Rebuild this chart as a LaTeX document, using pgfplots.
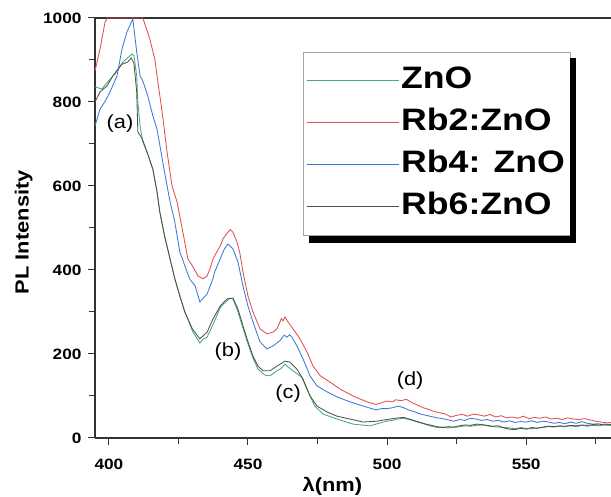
\documentclass[border=0pt]{standalone}
\usepackage{pgfplots}
\pgfplotsset{compat=1.18}
\usepackage{fontspec}
\setmainfont{Liberation Sans}[FakeStretch=1.15]
\definecolor{cgreen}{RGB}{70,170,115}
\definecolor{cred}{RGB}{225,80,80}
\definecolor{cblue}{RGB}{60,120,215}
\definecolor{cblack}{RGB}{80,80,80}
\definecolor{frame}{RGB}{50,50,50}
\begin{document}
\begin{tikzpicture}
\begin{axis}[
  scale only axis, width=516pt, height=420pt,
  at={(0,0)}, anchor=south west,
  xmin=395, xmax=580.5, ymin=0, ymax=1000,
  axis x line*=box, axis y line*=left,
  axis line style={-, draw=frame, line width=1.1pt},
  xtick={400,450,500,550}, minor xtick={425,475,525,575},
  ytick={0,200,400,600,800,1000}, minor ytick={100,300,500,700,900},
  xtick pos=left, ytick pos=left,
  tick align=outside,
  major tick length=7pt, minor tick length=6pt,
  every tick/.style={draw=frame, line width=1pt},
  tick label style={font=\bfseries\fontsize{15}{18}\selectfont},
  xticklabel style={yshift=-10pt},
  yticklabel style={xshift=-3pt},
  /pgf/number format/assume math mode=true,
  /pgf/number format/set thousands separator={},
  xlabel={λ(nm)}, ylabel={PL Intensity},
  label style={font=\bfseries\fontsize{19}{22}\selectfont},
  xlabel style={at={(axis description cs:0.46,0)}, anchor=center, yshift=-48pt},
  ylabel style={at={(axis description cs:-0.138,0.49)}, anchor=center},
  clip=true,
  legend style={at={(rel axis cs:0.403,0.919)}, anchor=north west, name=leg,
    draw=gray!70, fill=white, line width=0.6pt,
    font=\bfseries\fontsize{31}{34}\selectfont,
    inner xsep=3pt, inner ysep=8pt, row sep=1pt,
    nodes={inner sep=2pt, text height=26pt, text depth=11pt}},
  legend cell align=left,
  legend image code/.code={\draw[#1, line width=1pt] (0pt,0pt) -- (82pt,0pt); \path (0pt,0pt) -- (92pt,0pt);},
  every axis plot/.append style={line width=0.85pt},
]
\addplot[cgreen] coordinates {
(395,836)(397.5,831)(399.6,848)(402.2,867)(405,895)(408.3,914)(409,910)(410,862)(410.4,800)(411.2,743)(412.2,705)(413.7,681)(415.8,640)(417.3,586)(418.3,538)(420,481)(422,426)(423.7,379)(425.5,338)(427.3,300)(428.4,283)(430,255)(432.7,226)(434,236)(435.3,240)(437.4,270)(440,310)(441,318)(442.4,326)(443.5,333)(444.6,331)(446.4,300)(448.2,262)(450,224)(451.8,190)(453.6,164)(456,150)(457.9,148)(460.4,160)(462,166)(463.3,176)(464.4,169)(466.2,160)(469.3,145)(471.6,110)(474,76)(477,57)(482,45)(487.8,33)(493.9,29)(498.6,38)
(500,40)(502,42)(504,45)(506,47)(508,44)(510,40)(512,36)(514,32)(516,28)(518,25)(520,26)(522,24)(524,25)(526,27)(528,29)(530,28)(532,30)(534,31)(536,29)(538,27)(540,26)(542,25)(544,24)(546,22)(548,25)(550,23)(552,22)(554,24)(556,25)(558,27)(560,26)(562,28)(564,27)(566,29)(568,27)(570,30)(572,28)(574,30)(576,29)(578,31)(580.5,30)
};
\addlegendentry{ZnO}
\addplot[cred] coordinates {
(395,874)(396.8,926)(398.6,990)(399.5,1000)(412.2,1000)(414.7,950)(416.5,902)(417.6,848)(419,783)(420,730)(420.9,681)(422.7,600)(424.5,562)(426.6,490)(428.4,426)(430,410)(432,386)(433.8,379)(435.3,386)(436.3,402)(437.4,426)(438.8,443)(440,457)(441,474)(442.8,490)(443.6,496)(444.6,490)(446,467)(447,443)(448.2,395)(450,338)(451.8,300)(454.3,260)(456.8,248)(459,252)(460.4,260)(461.5,276)(462,284)(462.6,279)(463.3,288)(464.4,276)(466.2,260)(468.7,236)(471.2,205)(473.4,171)(476,148)(479.5,133)(483,117)(487.8,100)(492.8,86)(496,80)(498,84)
(500,88)(502,86)(503,91)(505,89)(507,92)(509,84)(511,78)(513,72)(515,68)(517,63)(519,60)(521,57)(523,50)(525,54)(527,56)(529,52)(531,57)(533,55)(535,52)(537,56)(539,50)(541,53)(543,48)(545,50)(547,47)(549,52)(551,46)(553,49)(555,47)(557,50)(559,45)(561,47)(563,44)(565,48)(567,45)(569,44)(571,46)(573,43)(575,40)(577,38)(579,36)(580.5,37)
};
\addlegendentry{Rb2:ZnO}
\addplot[cblue] coordinates {
(395,743)(396.8,783)(398.5,800)(400.4,824)(402.9,862)(404.7,926)(406.5,967)(408.6,998)(410,919)(411.2,862)(412.2,850)(414,814)(415.8,767)(417.3,735)(419,671)(420,633)(422,562)(423.7,514)(425.5,443)(427.3,410)(429,379)(431,362)(432.7,324)(435.3,343)(437.4,379)(438,395)(440,426)(441.5,450)(442.8,462)(444.6,450)(446.4,419)(448.2,362)(450,314)(451.8,276)(454.3,229)(456.8,212)(459,219)(461.5,232)(463,245)(464,240)(465,246)(465.8,240)(467.6,219)(469.8,188)(472.3,148)(474.8,124)(478.4,110)(482,98)(486.7,86)(491.4,76)(496,67)(498,70)
(500,70)(502,72)(504,76)(506,72)(508,66)(510,62)(512,57)(514,54)(516,51)(518,48)(520,46)(522,43)(524,40)(526,44)(528,42)(530,47)(532,45)(534,42)(536,44)(538,40)(540,42)(542,38)(544,41)(546,37)(548,39)(550,38)(552,41)(554,37)(556,40)(558,38)(560,35)(562,37)(564,34)(566,38)(568,35)(570,39)(572,35)(574,33)(576,34)(578,31)(580.5,32)
};
\addlegendentry{Rb4: ZnO}
\addplot[cblack] coordinates {
(395,800)(396.8,824)(399.3,838)(401.4,862)(404.7,890)(406.8,895)(408,905)(409,892)(410,824)(410.4,729)(412,712)(413.7,681)(415.8,640)(417.3,586)(418.3,538)(420,481)(422,426)(423.7,379)(425.5,338)(427.3,300)(428.4,283)(430,260)(432.7,236)(435.3,252)(437.4,283)(440,314)(442.4,331)(444.6,333)(446.4,307)(448.2,267)(450,229)(451.8,195)(453.6,171)(455.4,160)(457.9,160)(460.4,171)(463.3,183)(465,181)(467.6,164)(469.8,140)(472.3,100)(474.8,76)(478.4,62)(482,52)(486.7,45)(491.4,38)(496.4,40)(498,42)
(500,44)(502,46)(504,48)(506,49)(508,45)(510,41)(512,37)(514,33)(516,30)(518,27)(520,25)(522,27)(524,26)(526,29)(528,31)(530,30)(532,33)(534,32)(536,30)(538,28)(540,29)(542,24)(544,21)(546,20)(548,23)(550,21)(552,25)(554,23)(556,26)(558,28)(560,27)(562,29)(564,28)(566,30)(568,29)(570,31)(572,30)(574,32)(576,31)(578,33)(580.5,32)
};
\addlegendentry{Rb6:ZnO}
\node[font=\fontsize{19}{22}\selectfont] at (axis cs:404,748) {(a)};
\node[font=\fontsize{19}{22}\selectfont] at (axis cs:442.8,205) {(b)};
\node[font=\fontsize{19}{22}\selectfont] at (axis cs:464.4,105) {(c)};
\node[font=\fontsize{19}{22}\selectfont] at (axis cs:508.3,136) {(d)};
\end{axis}
\fill[black] ([xshift=6pt,yshift=-7pt]leg.south west) rectangle ([xshift=6pt]leg.south east);
\fill[black] ([yshift=-6pt]leg.north east) rectangle ([xshift=6pt]leg.south east);
\pgfresetboundingbox
\useasboundingbox (-95pt,-59pt) rectangle (516pt,438pt);
\end{tikzpicture}
\end{document}
